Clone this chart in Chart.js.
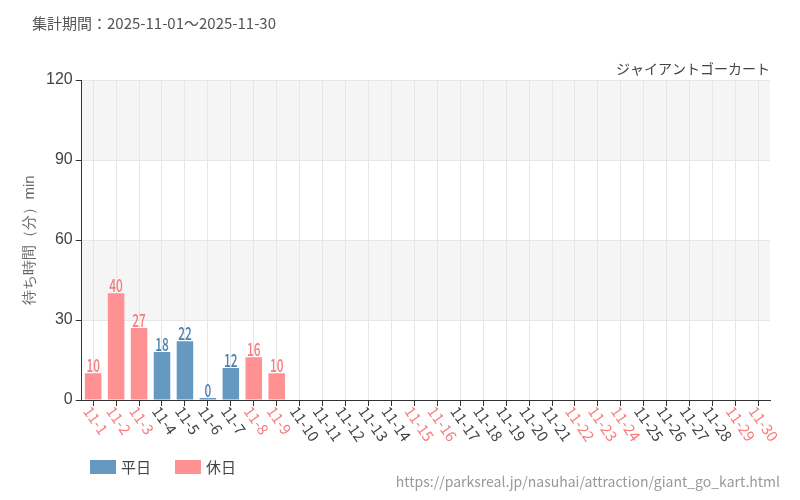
<!DOCTYPE html>
<html><head><meta charset="utf-8">
<script src="https://cdn.jsdelivr.net/npm/chart.js@4"></script>
<style>body{margin:0;background:#fff;font-family:"Noto Sans CJK JP","Noto Sans",sans-serif}
#t{position:absolute;left:32px;top:12px;font-size:15px;color:#555}
#u{position:absolute;right:20px;bottom:9px;font-size:14px;color:#999}
#w{position:absolute;left:0;top:0;width:800px;height:500px}</style></head><body>
<div id="w"><canvas id="c" width="800" height="500"></canvas></div>
<div id="t">集計期間：2025-11-01～2025-11-30</div>
<div id="u">https://parksreal.jp/nasuhai/attraction/giant_go_kart.html</div>
<script>
const labels=[];for(let i=1;i<=30;i++)labels.push('11-'+i);
const holidays=[1,2,3,8,9,15,16,22,23,24,29,30];
const weekday=[null,null,null,18,22,0,12,null,null];
const holiday=[10,40,27,null,null,null,null,16,10];
const yTicks=[0,30,60,90,120];
const blue='#6699c2',pink='#ff9193',blueT='#4a7fb0',pinkT='#f77b7d';
const bands={id:'bands',beforeDraw(ch){const {ctx,chartArea:a,scales:{y}}=ch;ctx.save();ctx.fillStyle='#f5f5f5';
[[90,120],[30,60]].forEach(([l,h])=>{ctx.fillRect(a.left,y.getPixelForValue(h),a.right-a.left,y.getPixelForValue(l)-y.getPixelForValue(h));});ctx.restore();}};
const lbl={id:'lbl',afterDatasetsDraw(ch){const ctx=ch.ctx;ctx.save();ctx.font='500 18px "Noto Sans CJK JP"';ctx.textAlign='center';ctx.textBaseline='alphabetic';
ch.data.datasets.forEach((ds,di)=>{ch.getDatasetMeta(di).data.forEach((b,i)=>{const v=ds.data[i];if(v==null)return;ctx.fillStyle=di==0?blueT:pinkT;ctx.save();ctx.translate(b.x,b.y-1);ctx.scale(0.66,1);ctx.fillText(v,0,0);ctx.restore();});});
const x=ch.scales.x,bot=ch.chartArea.bottom;ctx.font='15px "Noto Sans CJK JP"';ctx.textAlign='left';ctx.textBaseline='middle';
labels.forEach((t,i)=>{ctx.save();ctx.translate(x.getPixelForValue(i)-6,bot+8);ctx.rotate(55*Math.PI/180);ctx.fillStyle=holidays.includes(i+1)?pinkT:'#444';ctx.fillText(t,0,0);ctx.restore();});
ctx.restore();}};
new Chart(document.getElementById('c'),{type:'bar',data:{labels,datasets:[
{label:'平日',data:weekday,backgroundColor:blue,minBarLength:2},
{label:'休日',data:holiday,backgroundColor:pink,minBarLength:2}]},
options:{responsive:false,animation:false,layout:{padding:{left:17,right:30,top:80,bottom:94}},
plugins:{legend:{display:false},title:{display:false},tooltip:{enabled:false}},
scales:{x:{stacked:true,grid:{color:'#e6e6e6',offset:false,tickColor:'#333',tickLength:6},border:{color:'#333'},
ticks:{display:false},categoryPercentage:1,barPercentage:0.87},
y:{stacked:true,min:0,max:120,afterBuildTicks:s=>{s.ticks=yTicks.map(v=>({value:v}));},grid:{color:'#e6e6e6',tickColor:'#333',tickLength:6},border:{color:'#333'},
ticks:{font:{size:16},color:'#444'},title:{display:true,text:'待ち時間（分）min',font:{size:15},color:'#666'}}}},
plugins:[bands,lbl,{id:'nm',afterDraw(ch){const ctx=ch.ctx;ctx.save();ctx.font='14px "Noto Sans CJK JP"';ctx.fillStyle='#444';ctx.textAlign='right';ctx.fillText('ジャイアントゴーカート',ch.chartArea.right,74);
ctx.font='15px "Noto Sans CJK JP"';ctx.textBaseline='middle';ctx.textAlign='left';
[[blue,'平日',90],[pink,'休日',175]].forEach(([c,t,x])=>{ctx.fillStyle=c;ctx.fillRect(x,460,26,14);ctx.fillStyle='#444';ctx.fillText(t,x+31,467);});ctx.restore();}}]});
</script></body></html>
